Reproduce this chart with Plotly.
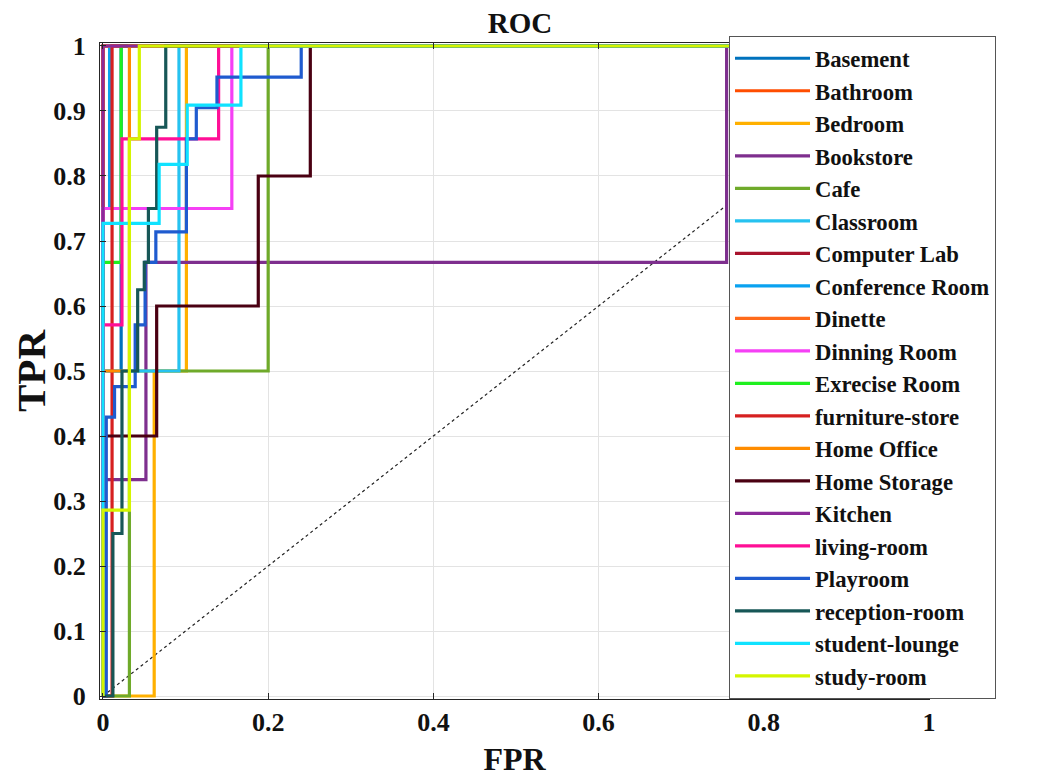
import plotly.graph_objects as go

# ---- data (staircase vertices of each ROC curve) ----
names = ["Basement", "Bathroom", "Bedroom", "Bookstore", "Cafe", "Classroom",
         "Computer Lab", "Conference Room", "Dinette", "Dinning Room",
         "Exrecise Room", "furniture-store", "Home Office", "Home Storage",
         "Kitchen", "living-room", "Playroom", "reception-room",
         "student-lounge", "study-room"]

colors = ["#0072BD", "#FF4D00", "#FFB000", "#7E2F8E", "#6FAA2A", "#26C2F0",
          "#A8132D", "#0AA2F0", "#FF6A1A", "#F540F5", "#1FF01F", "#D62020",
          "#FF8C00", "#4A0012", "#8B2A9A", "#FF0F96", "#1F5BCF", "#175757",
          "#10E2FF", "#D4F500"]

fpr_basement = [0, 0, 0.022, 0.022, 1]
tpr_basement = [0, 0.5, 0.5, 1, 1]
fpr_bathroom = [0, 0, 1]
tpr_bathroom = [0, 1, 1]
fpr_bedroom = [0, 0.062, 0.062, 0.101, 0.101, 1]
tpr_bedroom = [0, 0, 0.5, 0.5, 1, 1]
fpr_bookstore = [0, 0, 0.052, 0.052, 0.755, 0.755, 1]
tpr_bookstore = [0, 0.333, 0.333, 0.667, 0.667, 1, 1]
fpr_cafe = [0, 0.032, 0.032, 0.2, 0.2, 1]
tpr_cafe = [0, 0, 0.5, 0.5, 1, 1]
fpr_classroom = [0, 0, 0.092, 0.092, 1]
tpr_classroom = [0, 0.5, 0.5, 1, 1]
fpr_computer_lab = [0, 0, 1]
tpr_computer_lab = [0, 1, 1]
fpr_conference = [0, 0, 0.008, 0.008, 1]
tpr_conference = [0, 0.75, 0.75, 1, 1]
fpr_dinette = [0, 0, 1]
tpr_dinette = [0, 1, 1]
fpr_dinning = [0, 0, 0.156, 0.156, 1]
tpr_dinning = [0, 0.75, 0.75, 1, 1]
fpr_exercise = [0, 0, 0.022, 0.022, 1]
tpr_exercise = [0, 0.667, 0.667, 1, 1]
fpr_furniture = [0, 0.011, 0.011, 1]
tpr_furniture = [0, 0, 1, 1]
fpr_home_office = [0, 0, 0.032, 0.032, 1]
tpr_home_office = [0, 0.5, 0.5, 1, 1]
fpr_home_storage = [0, 0, 0.065, 0.065, 0.188, 0.188, 0.251, 0.251, 1]
tpr_home_storage = [0, 0.4, 0.4, 0.6, 0.6, 0.8, 0.8, 1, 1]
fpr_kitchen = [0, 0, 1]
tpr_kitchen = [0, 1, 1]
fpr_living = [0, 0, 0.023, 0.023, 0.140, 0.140, 1]
tpr_living = [0, 0.571, 0.571, 0.857, 0.857, 1, 1]
fpr_playroom = [0, 0.004, 0.004, 0.014, 0.014, 0.039, 0.039, 0.051, 0.051,
                0.064, 0.064, 0.101, 0.101, 0.113, 0.113, 0.138, 0.138, 0.240,
                0.240, 1]
tpr_playroom = [0, 0, 0.429, 0.429, 0.476, 0.476, 0.571, 0.571, 0.667,
                0.667, 0.714, 0.714, 0.857, 0.857, 0.905, 0.905, 0.952, 0.952,
                1, 1]
fpr_reception = [0, 0.012, 0.012, 0.023, 0.023, 0.042, 0.042, 0.050, 0.050,
                 0.055, 0.055, 0.065, 0.065, 0.076, 0.076, 1]
tpr_reception = [0, 0, 0.25, 0.25, 0.5, 0.5, 0.625, 0.625, 0.667, 0.667,
                 0.75, 0.75, 0.875, 0.875, 1, 1]
fpr_student = [0, 0, 0.068, 0.068, 0.102, 0.102, 0.167, 0.167, 1]
tpr_student = [0, 0.727, 0.727, 0.818, 0.818, 0.909, 0.909, 1, 1]
fpr_study = [0, 0, 0.032, 0.032, 0.044, 0.044, 1]
tpr_study = [0, 0.286, 0.286, 0.857, 0.857, 1, 1]

fprs = [fpr_basement, fpr_bathroom, fpr_bedroom, fpr_bookstore, fpr_cafe,
        fpr_classroom, fpr_computer_lab, fpr_conference, fpr_dinette,
        fpr_dinning, fpr_exercise, fpr_furniture, fpr_home_office,
        fpr_home_storage, fpr_kitchen, fpr_living, fpr_playroom,
        fpr_reception, fpr_student, fpr_study]
tprs = [tpr_basement, tpr_bathroom, tpr_bedroom, tpr_bookstore, tpr_cafe,
        tpr_classroom, tpr_computer_lab, tpr_conference, tpr_dinette,
        tpr_dinning, tpr_exercise, tpr_furniture, tpr_home_office,
        tpr_home_storage, tpr_kitchen, tpr_living, tpr_playroom,
        tpr_reception, tpr_student, tpr_study]

chance_x = [0, 1]
chance_y = [0, 1]

x_ticks = [0, 0.2, 0.4, 0.6, 0.8, 1]
x_tick_labels = ["0", "0.2", "0.4", "0.6", "0.8", "1"]
y_ticks = [0, 0.1, 0.2, 0.3, 0.4, 0.5, 0.6, 0.7, 0.8, 0.9, 1]
y_tick_labels = ["0", "0.1", "0.2", "0.3", "0.4", "0.5", "0.6", "0.7", "0.8", "0.9", "1"]

FONT = "Liberation Serif, Times New Roman, serif"

# page body has an 8px margin: size the figure to end at the window edge
W, H = 1035, 772
L, T, R, B = 92, 35, 114, 81
PW, PH = W - L - R, H - T - B

fig = go.Figure()
fig.add_trace(go.Scatter(x=chance_x, y=chance_y, mode="lines",
                         line=dict(color="#222222", width=1.2, dash="dot"),
                         showlegend=False, hoverinfo="skip"))
for n, c, fx, ty in zip(names, colors, fprs, tprs):
    fig.add_trace(go.Scatter(x=fx, y=ty, mode="lines", name=n,
                             line=dict(color=c, width=3.2)))

axis_common = dict(showline=True, linecolor="#262626", linewidth=1,
                   mirror="ticks", ticks="inside", ticklen=6,
                   tickcolor="#262626", showgrid=True, gridcolor="#E3E3E3",
                   gridwidth=1, zeroline=False, automargin=False,
                   tickfont=dict(family=FONT, size=26, color="#111111",
                                 weight="bold"))

fig.update_layout(
    width=W, height=H,
    margin=dict(l=L, r=R, t=T, b=B, autoexpand=False),
    paper_bgcolor="white", plot_bgcolor="white",
    title=dict(text="ROC", x=512 / W, xanchor="center",
               y=1 - 15 / H, yanchor="middle",
               font=dict(family=FONT, size=29, color="#111111",
                         weight="bold")),
    xaxis=dict(range=[-0.0036, 1.0], tickvals=x_ticks,
               ticktext=x_tick_labels, ticklabelstandoff=0,
               title=dict(text="FPR", standoff=11,
                          font=dict(family=FONT, size=32, color="#111111",
                                    weight="bold")),
               **axis_common),
    yaxis=dict(range=[-0.0046, 1.0046], tickvals=y_ticks,
               ticktext=y_tick_labels, ticklabelstandoff=8,
               title=dict(text="TPR", standoff=18,
                          font=dict(family=FONT, size=41, color="#111111",
                                    weight="bold")),
               **axis_common),
    legend=dict(x=(721 - L) / PW, y=1 + (T - 28) / PH,
                xanchor="left", yanchor="top",
                bgcolor="white", bordercolor="#555555", borderwidth=1,
                itemwidth=75, tracegroupgap=0, maxheight=760,
                font=dict(family=FONT, size=22.7, color="#111111",
                          weight="bold")),
)

fig.write_html("out.html")
